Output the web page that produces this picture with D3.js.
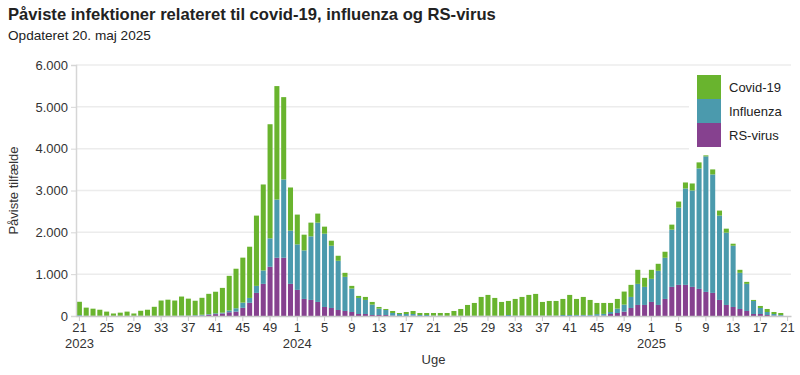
<!DOCTYPE html>
<html>
<head>
<meta charset="utf-8">
<script src="https://cdn.jsdelivr.net/npm/d3@7"></script>
<style>
  body { margin: 0; background: #fff; font-family: "Liberation Sans", Arial, sans-serif; }
  .axis text { font-size: 13px; fill: #333; }
</style>
</head>
<body>
<div id="chart"></div>
<script>
// week categories: [year, first week, last week]
const yearSpans = [[2023, 21, 52], [2024, 1, 52], [2025, 1, 21]];
const weeks = [];
yearSpans.forEach(([yr, a, b]) => { for (let w = a; w <= b; w++) weeks.push(yr + "-" + w); });

// cases per week
const covid = [
  320, 195, 170, 145, 100, 55, 75, 100, 55, 120, 145, 215, 365, 385, 365, 455,
  405, 345, 405, 485, 515, 592, 830, 945, 1075, 1224, 1680, 2056, 2728, 2712, 1968, 1032,
  712, 376, 328, 216, 168, 120, 120, 96, 64, 48, 72, 64, 40, 24, 48, 24,
  48, 72, 48, 48, 62, 62, 67, 115, 163, 259, 307, 451, 499, 427, 331, 336,
  398, 446, 494, 518, 326, 350, 350, 384, 480, 383, 431, 359, 267, 262, 216, 232,
  312, 288, 336, 216,
  216, 168, 144, 120, 144, 144, 168, 144, 24, 120, 120, 96, 48, 72, 48, 24,
  48, 72, 48, 48, 0
];
const influenza = [
  20, 5, 5, 5, 5, 5, 5, 5, 5, 5, 5, 5, 5, 5, 5, 10,
  10, 15, 20, 15, 20, 20, 40, 80, 125, 117, 168, 320, 680, 1392, 1872, 1272,
  1088, 1160, 1520, 1896, 1752, 1488, 1176, 816, 560, 384, 336, 248, 152, 120, 64, 48,
  48, 40, 24, 24, 10, 10, 5, 5, 5, 5, 5, 5, 5, 5, 5, 24,
  10, 10, 10, 10, 10, 10, 10, 24, 24, 20, 20, 20, 40, 40, 48, 104,
  168, 264, 504, 432,
  552, 816, 984, 1368, 1848, 2304, 2304, 2880, 3240, 2832, 2016, 1728, 1464, 864, 648, 312,
  144, 72, 38, 19, 0
];
const rsv = [
  0, 0, 0, 0, 0, 0, 0, 0, 0, 0, 0, 0, 0, 0, 0, 0,
  0, 5, 10, 30, 45, 60, 90, 105, 195, 315, 552, 768, 1176, 1392, 1392, 768,
  624, 408, 384, 336, 216, 192, 144, 120, 96, 48, 48, 24, 24, 24, 8, 0,
  0, 8, 0, 0, 0, 0, 0, 0, 0, 0, 0, 0, 0, 0, 0, 0,
  0, 0, 0, 0, 0, 0, 0, 0, 0, 5, 5, 5, 5, 10, 48, 72,
  104, 192, 264, 264,
  336, 264, 408, 696, 744, 744, 696, 648, 576, 552, 384, 264, 216, 168, 120, 48,
  48, 24, 10, 5, 0
];

const yTicks = [0, 1000, 2000, 3000, 4000, 5000, 6000];
const yearLabels = [["2023-21", "2023"], ["2024-1", "2024"], ["2025-1", "2025"]];
const seriesKeys = ["rsv", "influenza", "covid"];
const seriesNames = { covid: "Covid-19", influenza: "Influenza", rsv: "RS-virus" };
const colors = { covid: "#69b42e", influenza: "#4b9aad", rsv: "#86418f" };

const W = 800, H = 375;
const margin = { top: 65, right: 9, bottom: 59, left: 76 };
const width = W - margin.left - margin.right;
const height = H - margin.top - margin.bottom;

const locale = d3.formatLocale({ decimal: ",", thousands: ".", grouping: [3], currency: ["", " kr."] });
const fmt = locale.format(",");

const rows = weeks.map((w, i) => ({ week: w, covid: covid[i], influenza: influenza[i], rsv: rsv[i] }));
const stacked = d3.stack().keys(seriesKeys)(rows);

const svg = d3.select("#chart").append("svg")
  .attr("width", W).attr("height", H)
  .style("font-family", "'Liberation Sans', Arial, sans-serif");

// title
svg.append("text").attr("x", 8).attr("y", 20)
  .style("font-size", "16.6px").style("font-weight", "bold").attr("fill", "#222")
  .text("Påviste infektioner relateret til covid-19, influenza og RS-virus");
svg.append("text").attr("x", 8).attr("y", 40)
  .style("font-size", "13.6px").attr("fill", "#222")
  .text("Opdateret 20. maj 2025");

const g = svg.append("g").attr("transform", `translate(${margin.left},${margin.top})`);

const x = d3.scaleBand().domain(weeks).range([0, width]).paddingInner(0.26).paddingOuter(0.13);
const y = d3.scaleLinear().domain([0, 6000]).range([height, 0]);

// gridlines
g.append("g").selectAll("line").data(yTicks.slice(1)).join("line")
  .attr("x1", 0).attr("x2", width)
  .attr("y1", d => y(d)).attr("y2", d => y(d))
  .attr("stroke", "#ececec").attr("stroke-width", 1.5);

// bars
g.append("g").selectAll("g").data(stacked).join("g")
  .attr("fill", d => colors[d.key])
  .selectAll("rect").data(d => d).join("rect")
  .attr("x", d => x(d.data.week))
  .attr("y", d => y(d[1]))
  .attr("width", x.bandwidth())
  .attr("height", d => y(d[0]) - y(d[1]));

// y axis
const yAxis = g.append("g").attr("class", "axis")
  .call(d3.axisLeft(y).tickValues(yTicks).tickFormat(fmt).tickSize(5).tickPadding(3));
yAxis.select(".domain").attr("stroke", "#d6d6d6").attr("stroke-width", 1.5);
yAxis.selectAll(".tick line").attr("stroke", "#d6d6d6");

// x axis
const xTickVals = weeks.filter((d, i) => i % 4 === 0);
const xAxis = g.append("g").attr("class", "axis")
  .attr("transform", `translate(0,${height})`)
  .call(d3.axisBottom(x).tickValues(xTickVals).tickFormat(d => d.split("-")[1]).tickSize(5).tickPadding(2).tickSizeOuter(0));
xAxis.select(".domain").attr("stroke", "#c8c8c8").attr("stroke-width", 1.5);
xAxis.selectAll(".tick line").attr("stroke", "#c8c8c8");

g.append("g").selectAll("text").data(yearLabels).join("text")
  .attr("x", d => x(d[0]) + x.bandwidth() / 2)
  .attr("y", height + 32)
  .attr("text-anchor", "middle")
  .style("font-size", "13px").attr("fill", "#333")
  .text(d => d[1]);

// axis titles
g.append("text")
  .attr("x", width / 2).attr("y", height + 48)
  .attr("text-anchor", "middle")
  .style("font-size", "13px").attr("fill", "#333")
  .text("Uge");
g.append("text")
  .attr("transform", "rotate(-90)")
  .attr("x", -height / 2).attr("y", -58)
  .attr("text-anchor", "middle")
  .style("font-size", "13px").attr("fill", "#333")
  .text("Påviste tilfælde");

// legend
const legendKeys = ["covid", "influenza", "rsv"];
const legend = svg.append("g").attr("transform", "translate(689,68)");
legend.append("rect").attr("width", 102).attr("height", 84).attr("fill", "#fff");
const li = legend.selectAll("g").data(legendKeys).join("g")
  .attr("transform", (d, i) => `translate(8,${7 + i * 24})`);
li.append("rect").attr("width", 24).attr("height", 24).attr("fill", d => colors[d]);
li.append("text").attr("x", 32).attr("y", 12).attr("dy", "0.35em")
  .style("font-size", "13px").attr("fill", "#222")
  .text(d => seriesNames[d]);
</script>
</body>
</html>
